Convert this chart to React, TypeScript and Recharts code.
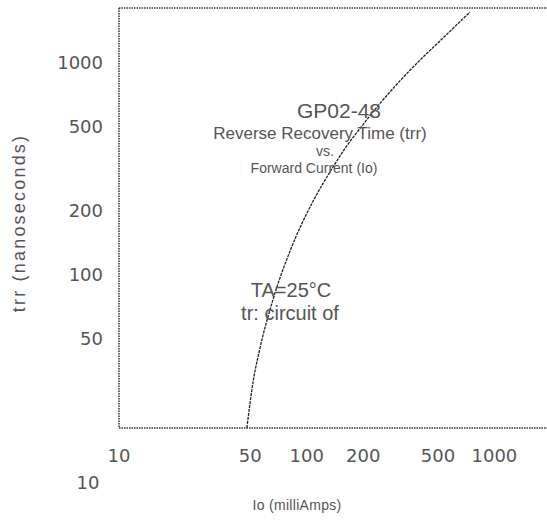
import { LineChart, Line, XAxis, YAxis } from 'recharts';

// Io (mA) vs trr (ns)
const IO = [48, 52, 56, 66, 82, 109, 135, 158, 195, 237, 303, 402, 546, 741];
const TRR = [19, 32, 44, 76, 131, 225, 311, 387, 496, 616, 790, 1025, 1329, 1724];

const X_TICKS = [10, 50, 100, 200, 500, 1000];
const Y_TICKS = [50, 100, 200, 500, 1000];
const X_DOMAIN = [10, 3000];
const Y_DOMAIN = [19, 1800];

const NOTES = [
  { text: 'GP02-48', x: 339, y: 110, size: 21 },
  { text: 'Reverse Recovery Time (trr)', x: 320, y: 133, size: 17 },
  { text: 'vs.', x: 325, y: 151, size: 14 },
  { text: 'Forward Current (Io)', x: 314, y: 168, size: 14 },
  { text: 'TA=25°C', x: 291, y: 290, size: 20 },
  { text: 'tr: circuit of', x: 290, y: 313, size: 20 },
];

const data = IO.map((io, i) => ({ io, trr: TRR[i] }));

const ink = '#555';
const tickStyle = { fill: ink, fontSize: 18, fontFamily: 'DejaVu Sans' };
const border = { stroke: '#333', strokeWidth: 1.5, strokeDasharray: '1.5 1' };

// no page margin / scrollbars, the chart fills the window
document.body.style.margin = '0';
document.documentElement.style.overflow = 'hidden';

export default function App() {
  return (
    <div style={{ position: 'relative', width: 547, height: 524, overflow: 'hidden', background: '#fff' }}>
      {/* plot runs past the right edge, like the scan: no right border */}
      <LineChart width={589} height={524} data={data} margin={{ top: 7, right: 5, left: 0, bottom: 0 }}>
        <XAxis dataKey="io" type="number" scale="log" domain={X_DOMAIN} ticks={X_TICKS} allowDataOverflow
          height={96} axisLine={border} tickLine={false} tickMargin={15} tick={tickStyle} />
        <XAxis xAxisId="top" orientation="top" dataKey="io" type="number" scale="log" domain={X_DOMAIN}
          allowDataOverflow height={1} axisLine={border} tickLine={false} tick={false} />
        <YAxis dataKey="trr" type="number" scale="log" domain={Y_DOMAIN} ticks={Y_TICKS} allowDataOverflow
          width={119} axisLine={border} tickLine={false} tickMargin={10} tick={tickStyle} />
        <Line dataKey="trr" type="monotone" stroke="#222" strokeWidth={1.3} strokeDasharray="3 1"
          dot={false} isAnimationActive={false} />
      </LineChart>

      {NOTES.map(n => (
        <div key={n.text} style={{
          position: 'absolute', left: n.x, top: n.y, transform: 'translate(-50%, -50%)',
          whiteSpace: 'nowrap', fontFamily: 'Liberation Sans, Arial, sans-serif', fontSize: n.size, color: ink, lineHeight: 1,
        }}>{n.text}</div>
      ))}

      <div style={{
        position: 'absolute', left: 19, top: 223, transform: 'translate(-50%, -50%) rotate(-90deg)',
        whiteSpace: 'nowrap', fontFamily: 'Liberation Sans, Arial, sans-serif', fontSize: 18, letterSpacing: 2.2, color: ink, lineHeight: 1,
      }}>trr (nanoseconds)</div>
      <div style={{
        position: 'absolute', left: 297, top: 505, transform: 'translate(-50%, -50%)',
        whiteSpace: 'nowrap', fontFamily: 'Liberation Sans, Arial, sans-serif', fontSize: 14, letterSpacing: 0.3, color: ink, lineHeight: 1,
      }}>Io (milliAmps)</div>
      <div style={{
        position: 'absolute', left: 88, top: 483, transform: 'translate(-50%, -50%)',
        fontFamily: 'DejaVu Sans', fontSize: 18, color: ink, lineHeight: 1,
      }}>10</div>
    </div>
  );
}
